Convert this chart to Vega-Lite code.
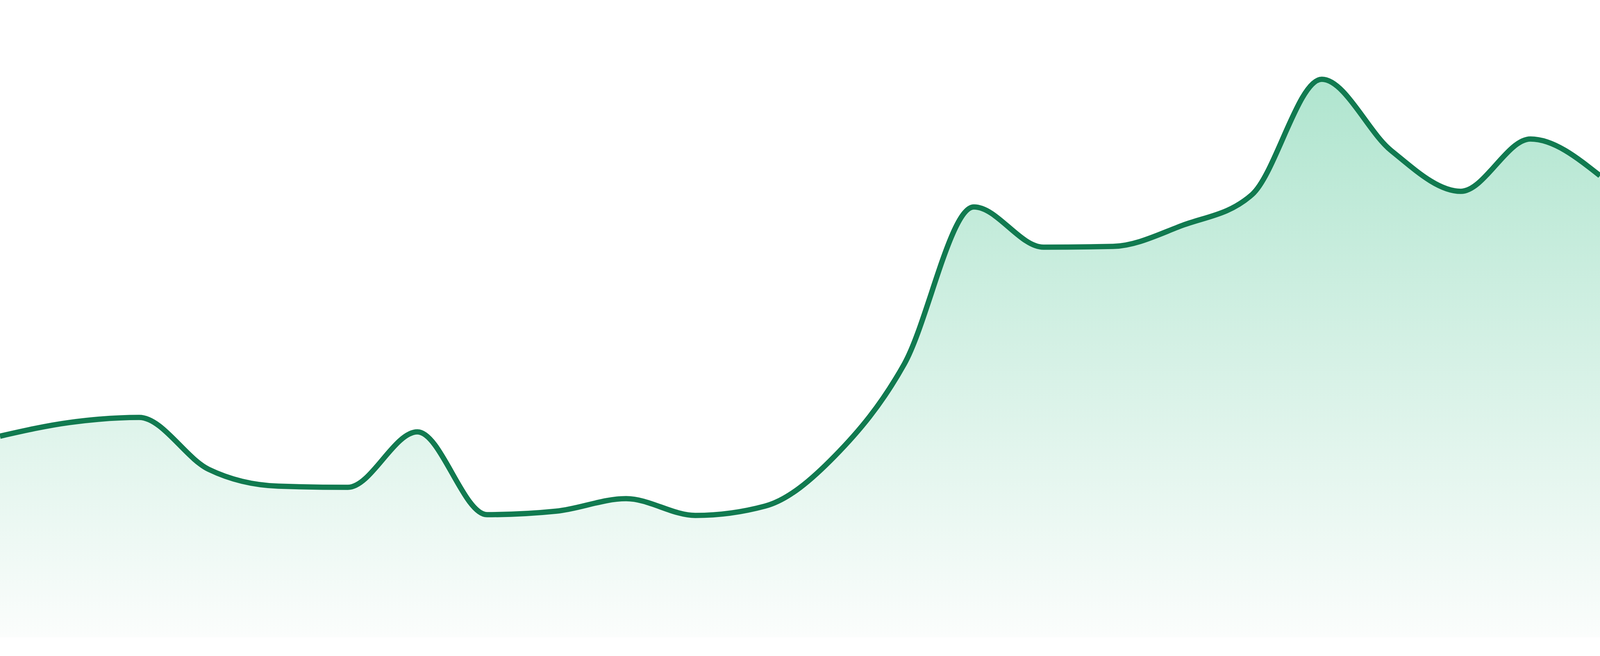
{
  "$schema": "https://vega.github.io/schema/vega-lite/v6.json",
  "width": 4096,
  "height": 1680,
  "autosize": {"type": "none"},
  "padding": 0,
  "background": "#ffffff",
  "config": {"view": {"stroke": null}},
  "data": {
    "values": [
      {"i": 0, "v": 51.5},
      {"i": 1, "v": 55.0},
      {"i": 2, "v": 56.3},
      {"i": 3, "v": 43.0},
      {"i": 4, "v": 38.7},
      {"i": 5, "v": 38.4},
      {"i": 6, "v": 52.6},
      {"i": 7, "v": 31.4},
      {"i": 8, "v": 32.3},
      {"i": 9, "v": 35.5},
      {"i": 10, "v": 31.2},
      {"i": 11, "v": 33.6},
      {"i": 12, "v": 46.4},
      {"i": 13, "v": 70.0},
      {"i": 14, "v": 110.2},
      {"i": 15, "v": 99.9},
      {"i": 16, "v": 100.1},
      {"i": 17, "v": 105.5},
      {"i": 18, "v": 113.4},
      {"i": 19, "v": 142.9},
      {"i": 20, "v": 124.6},
      {"i": 21, "v": 114.2},
      {"i": 22, "v": 127.6},
      {"i": 23, "v": 118.2}
    ]
  },
  "encoding": {
    "x": {"field": "i", "type": "quantitative", "axis": null, "scale": {"domain": [0, 23], "nice": false, "zero": false}},
    "y": {"field": "v", "type": "quantitative", "axis": null, "scale": {"domain": [-4.8, 163.2], "nice": false, "zero": false}}
  },
  "layer": [
    {
      "mark": {
        "type": "area",
        "interpolate": "monotone",
        "color": {
          "gradient": "linear",
          "x1": 0, "y1": 0, "x2": 0, "y2": 1,
          "stops": [
            {"offset": 0, "color": "#b0e5cf"},
            {"offset": 1, "color": "#fbfdfc"}
          ]
        }
      },
      "encoding": {"y2": {"datum": 0}}
    },
    {
      "mark": {"type": "line", "interpolate": "monotone", "color": "#117a50", "strokeWidth": 13.6},
      "encoding": {}
    }
  ]
}
